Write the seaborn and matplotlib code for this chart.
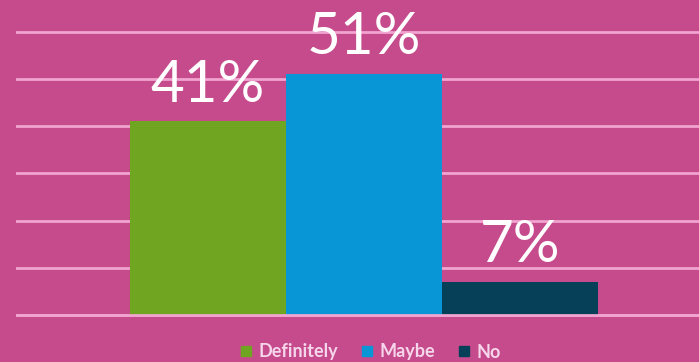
import matplotlib
matplotlib.use("Agg")
import matplotlib.pyplot as plt
from matplotlib.lines import Line2D
import seaborn as sns
import pandas as pd

# Survey answers and their shares (percent)
answers = ["Definitely", "Maybe", "No"]
shares = [41, 51, 7]
bar_colors = ["#6fa520", "#0896d6", "#063f58"]
grid_ticks = [0, 10, 20, 30, 40, 50, 60]

BG = "#c64b8c"
GRID = "#f0a4cf"
TEXT = "#ffffff"
LEGEND_TEXT = "#f6d6ea"

sns.set_theme(style="white")
plt.rcParams["font.family"] = ["Lato", "DejaVu Sans"]

df = pd.DataFrame({"answer": answers, "share": shares})

fig = plt.figure(figsize=(6.99, 3.62), dpi=100, facecolor=BG)
ax = fig.add_axes([16 / 699, 0.1232, 1 - 16 / 699, 0.8023])
ax.set_facecolor(BG)

sns.barplot(
    data=df, x="answer", y="share", hue="answer",
    palette=dict(zip(answers, bar_colors)), width=1.0,
    saturation=1.0, legend=False, ax=ax, zorder=2,
    linewidth=0, edgecolor="none",
)

ax.set_ylim(-0.5, 61)
ax.set_xlim(-1.231, 3.147)
ax.set_yticks(grid_ticks)
ax.yaxis.grid(True, color=GRID, linewidth=2.0, zorder=1)
ax.set_axisbelow(True)
ax.axhline(0, color=GRID, linewidth=2.0, zorder=3)
ax.tick_params(left=False, bottom=False, labelleft=False, labelbottom=False)
ax.set_xlabel("")
ax.set_ylabel("")
for s in ax.spines.values():
    s.set_visible(False)

for container, v in zip(ax.containers, shares):
    ax.bar_label(container, labels=[f"{v}%"], padding=7,
                 fontsize=42, color=TEXT, zorder=4)

handles = [Line2D([], [], marker="s", linestyle="none", markersize=7,
                  markerfacecolor=c, markeredgecolor=c) for c in bar_colors]
leg = fig.legend(handles, answers, loc="center", bbox_to_anchor=(371 / 699, 10 / 362),
                 ncol=3, frameon=False, fontsize=13, handlelength=0.6,
                 handletextpad=0.4, columnspacing=1.3, borderpad=0)
for t in leg.get_texts():
    t.set_color(LEGEND_TEXT)
    t.set_fontweight("bold")

fig.savefig("out.png", dpi=100, facecolor=BG)
